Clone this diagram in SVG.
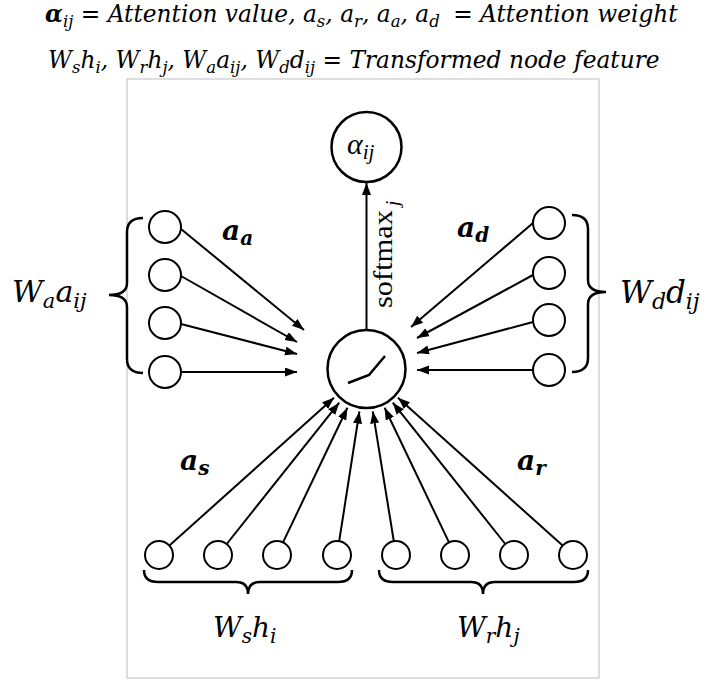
<svg xmlns="http://www.w3.org/2000/svg" width="707" height="681" viewBox="0 0 707 681">
<style>
.m{font-family:"DejaVu Serif","Liberation Serif",serif;font-style:italic;fill:#000}
.b{font-family:"DejaVu Serif","Liberation Serif",serif;font-style:italic;font-weight:bold;fill:#000}
.cm{font-family:"Liberation Serif","DejaVu Serif",serif;fill:#000}
.node{fill:#fff;stroke:#000;stroke-width:2}
.big{fill:#fff;stroke:#000;stroke-width:2.5}
.brace{fill:none;stroke:#000;stroke-width:2.5}
.edge{fill:none;stroke:#000;stroke-width:2;marker-end:url(#ah)}
</style>
<defs>
<marker id="ah" markerUnits="userSpaceOnUse" markerWidth="13" markerHeight="10" refX="12" refY="4.5" orient="auto">
<path d="M0,0 L12,4.5 L0,9 Z" fill="#000"/>
</marker>
</defs>
<rect width="707" height="681" fill="#fff"/>
<rect x="127" y="79" width="472" height="599" fill="none" stroke="#c8c8c8" stroke-width="1.2"/>

<g id="title">
<text class="m" x="45" y="22" font-size="23.3"><tspan class="b">α</tspan><tspan dy="5" font-size="16.5">ij</tspan><tspan dy="-5"> = Attention value, a</tspan><tspan dy="5" font-size="16.5">s</tspan><tspan dy="-5">, a</tspan><tspan dy="5" font-size="16.5">r</tspan><tspan dy="-5">, a</tspan><tspan dy="5" font-size="16.5">a</tspan><tspan dy="-5">, a</tspan><tspan dy="5" font-size="16.5">d</tspan><tspan dy="-5" dx="6"> = Attention weight</tspan></text>
<text class="m" x="48" y="68" font-size="23.3">W<tspan dy="5" font-size="16.5">s</tspan><tspan dy="-5">h</tspan><tspan dy="5" font-size="16.5">i</tspan><tspan dy="-5">, W</tspan><tspan dy="5" font-size="16.5">r</tspan><tspan dy="-5">h</tspan><tspan dy="5" font-size="16.5">j</tspan><tspan dy="-5">, W</tspan><tspan dy="5" font-size="16.5">a</tspan><tspan dy="-5">a</tspan><tspan dy="5" font-size="16.5">ij</tspan><tspan dy="-5">, W</tspan><tspan dy="5" font-size="16.5">d</tspan><tspan dy="-5">d</tspan><tspan dy="5" font-size="16.5">ij</tspan><tspan dy="-5"> = Transformed node feature</tspan></text>
</g>

<g id="connectors">
<line class="edge" x1="366.5" y1="330" x2="366.5" y2="183"/>
<line class="edge" x1="181" y1="229" x2="304" y2="330"/>
<line class="edge" x1="181" y1="276" x2="297" y2="342"/>
<line class="edge" x1="181" y1="324" x2="297" y2="354"/>
<line class="edge" x1="181" y1="372" x2="297" y2="372"/>
<line class="edge" x1="533" y1="223" x2="411" y2="327"/>
<line class="edge" x1="533" y1="275" x2="417" y2="338"/>
<line class="edge" x1="533" y1="322" x2="417" y2="353"/>
<line class="edge" x1="533" y1="370" x2="417" y2="370"/>
<line class="edge" x1="169.4" y1="545.6" x2="334" y2="397.7"/>
<line class="edge" x1="226.7" y1="544" x2="339.2" y2="402.7"/>
<line class="edge" x1="283" y1="542.4" x2="347.4" y2="407.8"/>
<line class="edge" x1="339.2" y1="541.2" x2="359.4" y2="411.5"/>
<line class="edge" x1="393.8" y1="541.2" x2="372.8" y2="411.4"/>
<line class="edge" x1="449" y1="542.4" x2="384.6" y2="407.8"/>
<line class="edge" x1="505.3" y1="544" x2="392.8" y2="402.7"/>
<line class="edge" x1="562.6" y1="545.6" x2="398" y2="397.7"/>
</g>

<g id="alpha">
<circle class="big" cx="366.5" cy="147" r="35"/>
<text class="cm" x="347" y="154" font-size="30" font-style="italic">α<tspan dy="5" font-size="21">ij</tspan></text>
</g>

<g id="softmax">
<text class="cm" transform="translate(392,308) rotate(-90)" font-size="28" textLength="98" lengthAdjust="spacingAndGlyphs">softmax</text>
<text class="cm" transform="translate(399,206) rotate(-90)" font-size="19" font-style="italic">j</text>
</g>

<g id="neuron">
<circle class="big" cx="366.5" cy="369" r="39"/>
<polyline points="348,383 369,375 385,356" fill="none" stroke="#000" stroke-width="2.5"/>
</g>

<g id="left-nodes">
<circle class="node" cx="165" cy="227" r="16"/>
<circle class="node" cx="165" cy="275" r="16"/>
<circle class="node" cx="165" cy="323" r="16"/>
<circle class="node" cx="165" cy="372" r="16"/>
<path class="brace" d="M143,218 Q127,218 127,232 L127,283 Q127,295 109,295 Q127,295 127,307 L127,359 Q127,373 143,373"/>
<text class="m" x="12" y="302" font-size="30">W<tspan dy="6" font-size="21">a</tspan><tspan dy="-6">a</tspan><tspan dy="6" font-size="21">ij</tspan></text>
<text class="b" x="222" y="240" font-size="28">a<tspan dy="5" font-size="20">a</tspan></text>
</g>

<g id="right-nodes">
<circle class="node" cx="549" cy="223" r="16"/>
<circle class="node" cx="549" cy="273" r="16"/>
<circle class="node" cx="549" cy="320" r="16"/>
<circle class="node" cx="549" cy="370" r="16"/>
<path class="brace" d="M572,215 Q588,215 588,229 L588,280 Q588,292 606,292 Q588,292 588,304 L588,358 Q588,372 572,372"/>
<text class="m" x="620" y="303" font-size="31">W<tspan dy="6" font-size="22">d</tspan><tspan dy="-6">d</tspan><tspan dy="6" font-size="22">ij</tspan></text>
<text class="b" x="457" y="237" font-size="28">a<tspan dy="5" font-size="20">d</tspan></text>
</g>

<g id="bottom-nodes">
<circle class="node" cx="159" cy="555" r="14"/>
<circle class="node" cx="218" cy="555" r="14"/>
<circle class="node" cx="277" cy="555" r="14"/>
<circle class="node" cx="337" cy="555" r="14"/>
<circle class="node" cx="396" cy="555" r="14"/>
<circle class="node" cx="455" cy="555" r="14"/>
<circle class="node" cx="514" cy="555" r="14"/>
<circle class="node" cx="573" cy="555" r="14"/>
<path class="brace" d="M144,570 Q144,582 158,582 L236,582 Q248,582 248,594 Q248,582 260,582 L338,582 Q352,582 352,570"/>
<path class="brace" d="M379,570 Q379,582 393,582 L471,582 Q483,582 483,594 Q483,582 495,582 L574,582 Q588,582 588,570"/>
<text class="m" x="213" y="637" font-size="28">W<tspan dy="6" font-size="20">s</tspan><tspan dy="-6">h</tspan><tspan dy="6" font-size="20">i</tspan></text>
<text class="m" x="457" y="637" font-size="28">W<tspan dy="6" font-size="20">r</tspan><tspan dy="-6">h</tspan><tspan dy="6" font-size="20">j</tspan></text>
<text class="b" x="180" y="470" font-size="28">a<tspan dy="5" font-size="20">s</tspan></text>
<text class="b" x="517" y="470" font-size="28">a<tspan dy="5" font-size="20">r</tspan></text>
</g>
</svg>
